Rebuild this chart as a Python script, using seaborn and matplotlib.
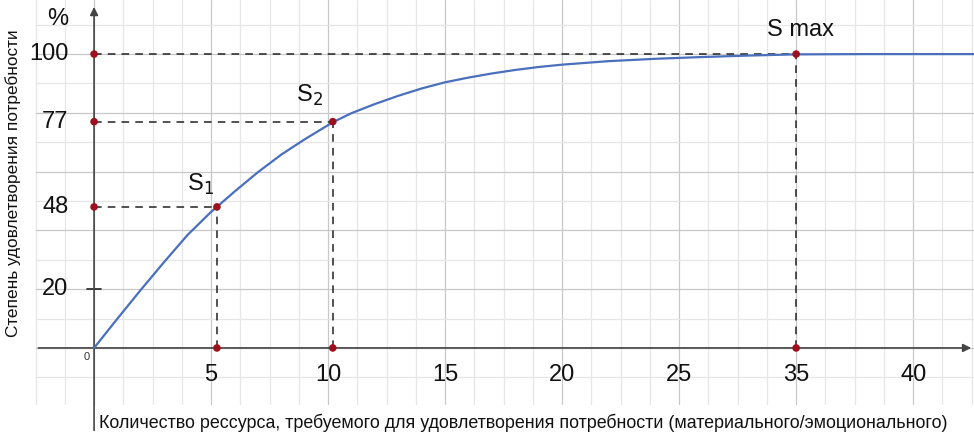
import matplotlib
matplotlib.use("Agg")
import matplotlib.pyplot as plt
import seaborn as sns
import numpy as np

sns.set_theme(style="white")
plt.rcParams['font.family'] = ['Liberation Sans', 'DejaVu Sans']

curve_x = [0, 1, 2, 3, 4, 5, 5.25, 6, 7, 8, 9, 10.2, 11, 12, 13, 14, 15, 16, 17, 18, 19, 20, 22, 24, 26, 28, 30, 33, 37.6]
curve_y = [0, 10, 19.8, 29.3, 38.5, 46.3, 48, 53.2, 59.8, 65.8, 71.0, 76.8, 79.9, 83.0, 85.8, 88.3, 90.4, 92.0, 93.4, 94.6, 95.6, 96.4, 97.6, 98.4, 99.0, 99.5, 99.9, 100, 100]
pts_x = [5.25, 10.2, 30]
pts_y = [48, 77, 100]
pt_labels = ["S$_1$", "S$_2$", "S max"]
xtick_pos = [5, 10, 15, 20, 25, 30, 35]
xtick_labels = ["5", "10", "15", "20", "25", "35", "40"]
ytick_vals = [20, 48, 77, 100]

fig = plt.figure(figsize=(9.74, 4.42), dpi=100)
ax = fig.add_axes([0, 0, 1, 1])
x0, x1, y0, y1 = -4.02, 37.6, -32, 118.4
ax.set_xlim(x0, x1); ax.set_ylim(y0, y1)
ax.axis("off")

gx0, gy0, gy1 = -2.5, -19, 118.4
for gx in np.arange(-2.5, 37.7, 1.25):
    major = abs(gx / 5 - round(gx / 5)) < 1e-6
    ax.plot([gx, gx], [gy0, gy1], color="#c8c8c8" if major else "#e6e6e6", lw=0.9, zorder=0)
for gy in np.arange(-10, 118, 10):
    major = gy % 20 == 0
    ax.plot([gx0, x1], [gy, gy], color="#c8c8c8" if major else "#e6e6e6", lw=0.9, zorder=0)

ax.annotate("", xy=(x1, 0), xytext=(gx0, 0), arrowprops=dict(arrowstyle="-|>", color="#444", lw=1.2, mutation_scale=12))
ax.annotate("", xy=(0, 117), xytext=(0, -29), arrowprops=dict(arrowstyle="-|>", color="#444", lw=1.2, mutation_scale=12))

sns.lineplot(x=curve_x, y=curve_y, ax=ax, color="#4a6fbd", lw=1.6, zorder=3)

for px, py in zip(pts_x, pts_y):
    ax.plot([0, px], [py, py], ls=(0, (5, 4)), color="#222", lw=1.1, zorder=2)
    ax.plot([px, px], [0, py], ls=(0, (5, 4)), color="#222", lw=1.1, zorder=2)
sns.scatterplot(x=pts_x + pts_x + [0] * 3, y=pts_y + [0] * 3 + pts_y, ax=ax, color="#a0101c", s=30, zorder=5, edgecolor="none")

offs = [(-0.7, 3.5), (-1.0, 4.5), (0.2, 4.5)]
for (px, py), lab, (dx, dy) in zip(zip(pts_x, pts_y), pt_labels, offs):
    ax.text(px + dx, py + dy, lab, fontsize=17, ha="center", va="bottom", color="#111")

for p, l in zip(xtick_pos, xtick_labels):
    ax.text(p, -5.5, l, fontsize=17, ha="center", va="top", color="#111")
for v in ytick_vals:
    ax.text(-1.1, v, str(v), fontsize=17, ha="right", va="center", color="#111")
ax.plot([-0.3, 0.3], [20, 20], color="#222", lw=1.2)
ax.text(-0.2, -1.5, "0", fontsize=8, ha="right", va="top", color="#333")
ax.text(-1.1, 112, "%", fontsize=17, ha="right", va="center", color="#111")

ax.text(0.2, -25.5, "Количество рессурса, требуемого для удовлетворения потребности (материального/эмоционального)",
        fontsize=12.9, ha="left", va="center", color="#111",
        bbox=dict(facecolor="white", edgecolor="none", pad=1))
ax.text(-3.45, 56, "Степень удовлетворения потребности", fontsize=12.4, rotation=90,
        ha="center", va="center", color="#111", bbox=dict(facecolor="white", edgecolor="none", pad=1))

fig.savefig("out.png", dpi=100)
